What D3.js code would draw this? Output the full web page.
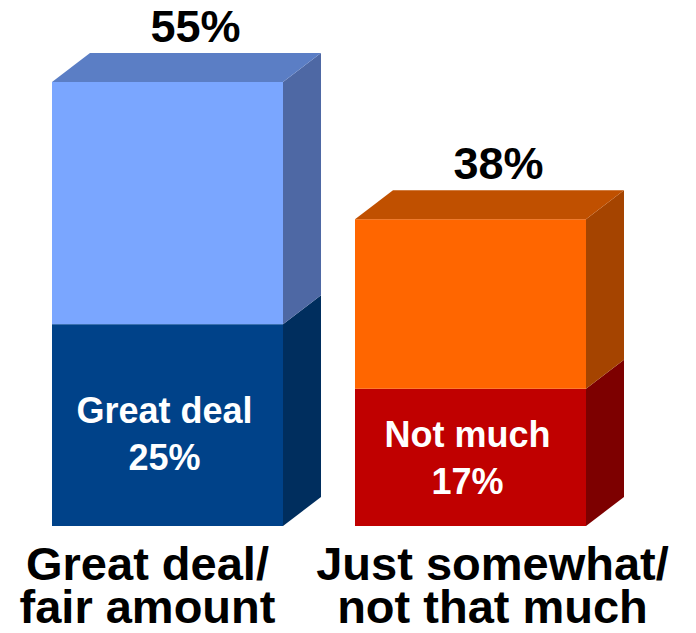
<!DOCTYPE html>
<html lang="en">
<head>
  <meta charset="UTF-8">
  <title>Great deal vs not much</title>
  <script src="https://d3js.org/d3.v7.min.js"></script>
  <style>
    html, body {
      margin: 0;
      padding: 0;
      background: #fff;
      overflow: hidden;
    }
    svg {
      display: block;
      font-family: "Liberation Sans", Arial, sans-serif;
      font-weight: bold;
    }
  </style>
</head>
<body>
<svg width="696" height="633"></svg>

<script>
  // data
  const categories = ["Great deal/ fair amount", "Just somewhat/ not that much"];
  const categoryLines = [["Great deal/", "fair amount"], ["Just somewhat/", "not that much"]];
  const totals = [55, 38];
  const lowerValues = [25, 17];
  const lowerLabels = ["Great deal", "Not much"];

  // colours for each bar: upper front/top/side, lower front/side
  const upperFront = ["#7aa6ff", "#ff6600"];
  const upperTop = ["#5b7ec5", "#c05000"];
  const upperSide = ["#4e68a4", "#a54400"];
  const lowerFront = ["#004289", "#c00000"];
  const lowerSide = ["#002e5e", "#7d0000"];

  const depthX = 38, depthY = 29;
  const innerShift = [-2, -10];   // small nudge of the inside labels
  const catShift = [-20, 22];

  const svg = d3.select("svg");

  const x = d3.scaleBand()
          .domain(categories)
          .range([52, 586])
          .paddingInner(0.2376)
          .paddingOuter(0);

  const y = d3.scaleLinear()
          .domain([0, 55])
          .range([526, 82]);

  const poly = pts => pts.map(p => p.join(",")).join(" ");

  categories.forEach((cat, i) => {
    const x0 = x(cat), x1 = x0 + x.bandwidth();
    const yBase = y(0), yDiv = y(lowerValues[i]), yTop = y(totals[i]);
    const g = svg.append("g");

    // lower segment
    g.append("rect")
            .attr("x", x0).attr("y", yDiv)
            .attr("width", x1 - x0).attr("height", yBase - yDiv)
            .attr("fill", lowerFront[i]);
    g.append("polygon")
            .attr("points", poly([[x1, yBase], [x1 + depthX, yBase - depthY], [x1 + depthX, yDiv - depthY], [x1, yDiv]]))
            .attr("fill", lowerSide[i]);

    // upper segment
    g.append("rect")
            .attr("x", x0).attr("y", yTop)
            .attr("width", x1 - x0).attr("height", yDiv - yTop)
            .attr("fill", upperFront[i]);
    g.append("polygon")
            .attr("points", poly([[x1, yDiv], [x1 + depthX, yDiv - depthY], [x1 + depthX, yTop - depthY], [x1, yTop]]))
            .attr("fill", upperSide[i]);
    g.append("polygon")
            .attr("points", poly([[x0, yTop], [x0 + depthX, yTop - depthY], [x1 + depthX, yTop - depthY], [x1, yTop]]))
            .attr("fill", upperTop[i]);

    // total label above
    g.append("text")
            .attr("x", (x0 + x1) / 2 + 28)
            .attr("y", yTop - 40)
            .attr("text-anchor", "middle")
            .attr("font-size", "45px")
            .attr("fill", "#000")
            .text(totals[i] + "%");

    // lower segment label
    const cx = (x0 + x1) / 2;
    const mid = (yDiv + yBase) / 2 + innerShift[i];
    g.append("text")
            .attr("x", cx - 3)
            .attr("y", mid)
            .attr("text-anchor", "middle")
            .attr("font-size", "36px")
            .attr("fill", "#fff")
            .text(lowerLabels[i]);
    g.append("text")
            .attr("x", cx - 3)
            .attr("y", mid + 47)
            .attr("text-anchor", "middle")
            .attr("font-size", "36px")
            .attr("fill", "#fff")
            .text(lowerValues[i] + "%");

    // category label below
    g.selectAll("text.cat")
            .data(categoryLines[i])
            .join("text")
            .attr("class", "cat")
            .attr("x", cx + catShift[i])
            .attr("y", (d, j) => 580 + j * 43)
            .attr("text-anchor", "middle")
            .attr("font-size", "47px")
            .attr("fill", "#000")
            .text(d => d);
  });
</script>
</body>
</html>
